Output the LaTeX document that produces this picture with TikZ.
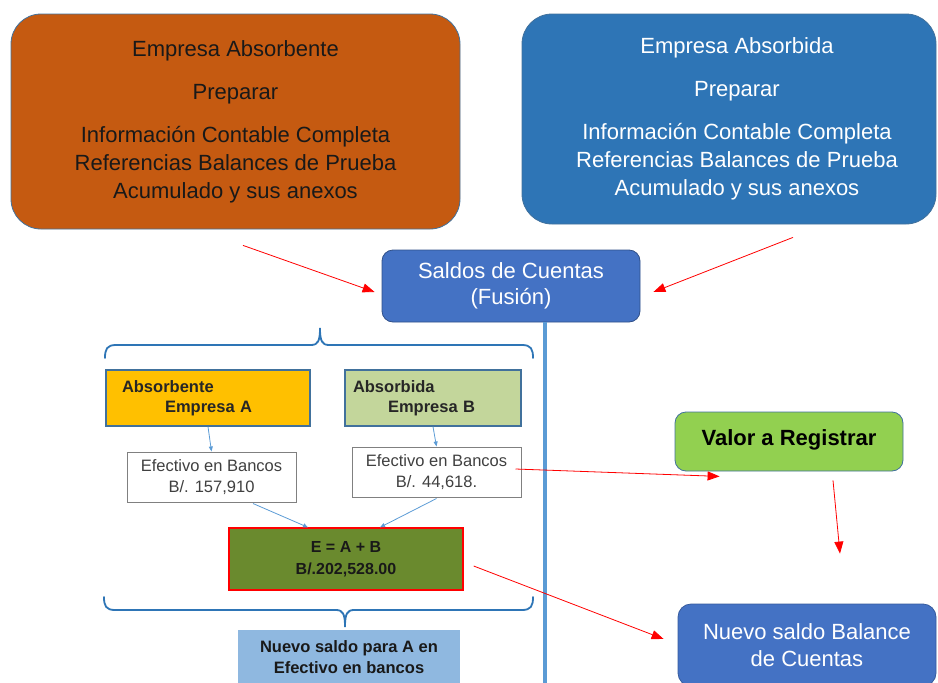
\documentclass[tikz,border=0pt]{standalone}
\usepackage{fontspec}
\setmainfont{Liberation Sans}
\usepackage{xcolor}
\usetikzlibrary{calc,positioning,arrows.meta,shapes}

\definecolor{naranja}{HTML}{C55A11}
\definecolor{azulA}{HTML}{2E75B6}
\definecolor{azulB}{HTML}{4472C4}
\definecolor{borde}{HTML}{41719C}
\definecolor{amarillo}{HTML}{FFC000}
\definecolor{verdeB}{HTML}{C3D69B}
\definecolor{oliva}{HTML}{6A8A2E}
\definecolor{celeste}{HTML}{8FB8E0}
\definecolor{verdeV}{HTML}{92D050}
\definecolor{linea}{HTML}{5B9BD5}

\tikzset{
  empresa/.style={draw=borde, line width=0.8pt, rounded corners=30pt, align=center,
    inner sep=2pt, font=\fontsize{22}{28}\selectfont},
  saldo/.style={draw=azulB!70!black, fill=azulB, line width=0.8pt, rounded corners=11pt,
    align=center, text=white, inner sep=2pt, font=\fontsize{22}{26}\selectfont},
  etiqueta/.style={draw=borde, line width=1.3pt, align=left, text=black!85,
    minimum height=56pt, font=\bfseries\fontsize{16.5}{20}\selectfont},
  efectivo/.style={draw=gray, line width=1pt, fill=white, align=center, text=black!75,
    minimum width=169pt, minimum height=50pt, inner sep=2pt,
    font=\fontsize{16.5}{21}\selectfont},
  flecha/.style={red, line width=0.8pt, -{Triangle[length=12pt,width=9pt]}},
  flechita/.style={linea, line width=0.8pt, -{Triangle[length=5pt,width=4pt]}},
  llave/.style={draw=azulA, line width=1.8pt, line cap=round}
}

\begin{document}
\begin{tikzpicture}[x=1pt,y=-1pt]
\useasboundingbox (0,0) rectangle (938,683);
\clip (0,0) rectangle (938,683);

% empresas
\node[empresa, fill=naranja, text=black!90, minimum width=449pt, minimum height=215pt]
  (absorbente) at (235.5,121.5) {Empresa Absorbente\\[15pt] Preparar\\[15pt]
  Información Contable Completa\\ Referencias Balances de Prueba\\ Acumulado y sus anexos};
\node[empresa, fill=azulA, text=white, minimum width=414pt, minimum height=210pt]
  (absorbida) at (729,119) {\hspace*{16pt}Empresa Absorbida\\[15pt]
  \hspace*{16pt}Preparar\\[15pt]
  \hspace*{16pt}Información Contable Completa\\
  \hspace*{16pt}Referencias Balances de Prueba\\
  \hspace*{16pt}Acumulado y sus anexos};

\node[saldo, minimum width=258pt, minimum height=72pt] (saldos) at (511,286)
  {\raisebox{-4pt}{Saldos de Cuentas}\\\raisebox{-4pt}{(Fusión)}};

% eje vertical
\coordinate (eje) at (545,683);
\draw[linea, line width=4pt] (saldos.south -| eje) -- (eje);

% llaves
\coordinate (llaveI) at (105,358);
\coordinate (llaveD) at (533,358);
\coordinate (puntaS) at (320,328);
\draw[llave] (llaveI) .. controls (105,349) and (107,345) .. (116,345)
  -- (311,345) .. controls (318,345) and (320,341) .. (puntaS)
  .. controls (320,341) and (322,345) .. (329,345)
  -- (522,345) .. controls (531,345) and (533,349) .. (llaveD);
\coordinate (llaveI2) at (104,597);
\coordinate (llaveD2) at (533,597);
\coordinate (puntaI) at (345,627);
\draw[llave] (llaveI2) .. controls (104,606) and (106,610) .. (115,610)
  -- (336,610) .. controls (343,610) and (345,614) .. (puntaI)
  .. controls (345,614) and (347,610) .. (354,610)
  -- (522,610) .. controls (531,610) and (533,606) .. (llaveD2);

% empresas A y B
\node[etiqueta, fill=amarillo, text width=172pt, inner xsep=16pt, inner ysep=2pt]
  (absA) at (208,398) {Absorbente\\\hspace*{43pt}Empresa A};
\node[etiqueta, fill=verdeB, text width=160pt, inner xsep=8pt, inner ysep=2pt]
  (absB) at (433,398) {Absorbida\\\hspace*{35pt}Empresa B};

\node[efectivo] (efA) at (211.5,477) {Efectivo en Bancos\\B/. 157,910};
\node[efectivo] (efB) at (436.5,472) {Efectivo en Bancos\\B/. 44,618.};

\node[draw=red, line width=1.3pt, fill=oliva, align=center, text=black!90,
  minimum width=234pt, minimum height=62pt, inner sep=2pt,
  font=\bfseries\fontsize{16}{22}\selectfont]
  (suma) at (346,559) {E = A + B\\B/.202,528.00};

\node[fill=celeste, align=center, text=black!90, minimum width=222pt, minimum height=55pt,
  inner sep=2pt, font=\bfseries\fontsize{16.5}{21}\selectfont]
  (nuevoA) at (349,657.5) {Nuevo saldo para A en\\Efectivo en bancos};

\node[saldo, fill=verdeV, draw=borde, text=black, minimum width=228pt, minimum height=59pt,
  font=\bfseries\fontsize{22}{26}\selectfont]
  (valor) at (789,441.5) {\raisebox{7pt}{Valor a Registrar}};

\node[saldo, draw=azulB!80!black, minimum width=258pt, minimum height=82pt, rounded corners=13pt,
  font=\fontsize{22}{27}\selectfont]
  (balance) at (807,645) {Nuevo saldo Balance\\de Cuentas};

% flechas azules
\draw[flechita] (absA.south) -- (efA.north);
\draw[flechita] (absB.south) -- (efB.north);
\draw[flechita] ($(efA.south)+(41.5,1)$) -- ($(suma.north)+(-38,0)$);
\draw[flechita] ($(efB.south)+(0,1)$) -- ($(suma.north)+(34,0)$);

% flechas rojas
\draw[flecha] ($(absorbente.south)+(7.5,16)$) -- ($(saldos.west)+(-7,6)$);
\draw[flecha] ($(absorbida.south)+(64,13)$) -- ($(saldos.east)+(13,6)$);
\draw[flecha] ($(efB.east)+(-6,-3)$) -- ($(valor.south west)+(45,5)$);
\draw[flecha] ($(valor.south)+(44,9)$) -- ($(balance.north)+(33,-50)$);
\draw[flecha] ($(suma.east)+(10,7)$) -- ($(balance.west)+(-14,-6)$);
\end{tikzpicture}
\end{document}
